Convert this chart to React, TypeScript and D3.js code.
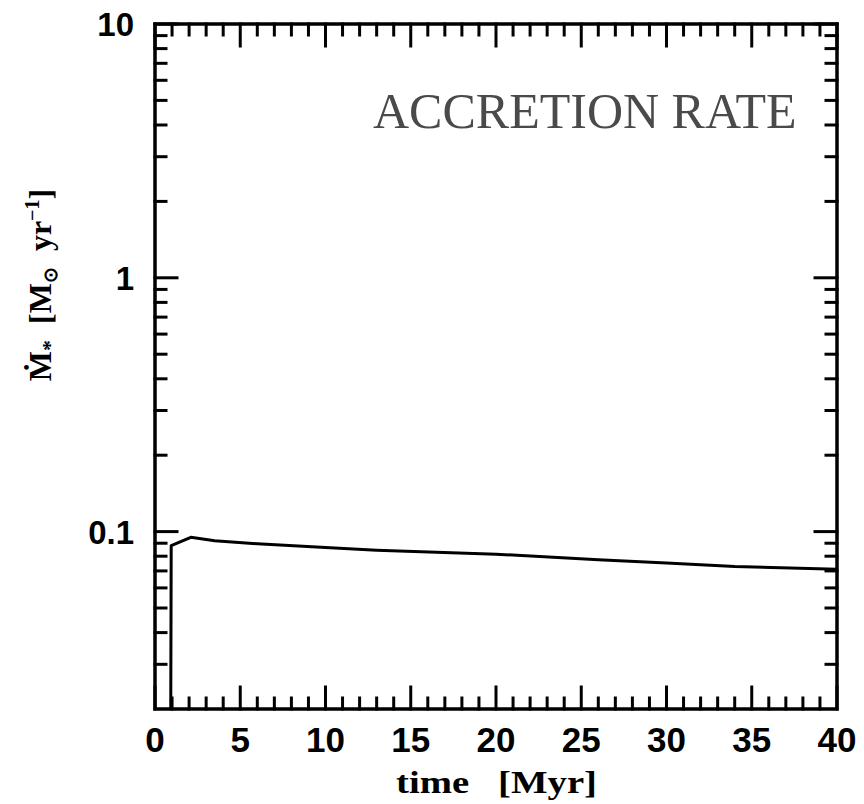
import React from "react";
import * as d3 from "d3";

const timeMyr = [0, 0.9, 0.95, 2.1, 3.5, 6, 10, 13, 20, 26, 30, 34, 40];
const accretionRate = [0.005, 0.005, 0.088, 0.095, 0.092, 0.0895, 0.0865, 0.0845, 0.0815, 0.0775, 0.0752, 0.0728, 0.0711];
const xMajorTicks = [0, 5, 10, 15, 20, 25, 30, 35, 40];
const yMajorTicks = [0.1, 1, 10];
const yTickLabels = ["0.1", "1", "10"];

const W = 864, H = 804;
const L = 155, R = 837, T = 24, B = 709;

export default function App() {
  const x = d3.scaleLinear().domain([0, 40]).range([L, R]);
  const y = d3.scaleLog().domain([0.02, 10]).range([B, T]);
  const xMinor = d3.range(0, 41, 1).filter((v) => v % 5 !== 0);
  const yMinor: number[] = [];
  for (let e = -2; e <= 0; e++) {
    for (let k = 2; k <= 9; k++) {
      const v = k * Math.pow(10, e);
      if (v > 0.02 && v < 10) yMinor.push(v);
    }
  }
  const line = d3
    .line<number>()
    .x((_, i) => x(timeMyr[i]))
    .y((_, i) => y(accretionRate[i]));
  const pathD = line(accretionRate) || "";
  const major = 22, minor = 11;
  const sw = 3;
  return (
    <svg width={W} height={H} style={{ position: "absolute", left: 0, top: 0, background: "#fff" }}>
      <defs>
        <clipPath id="clip">
          <rect x={L} y={T} width={R - L} height={B - T} />
        </clipPath>
      </defs>
      <g stroke="#000" strokeWidth={sw} strokeLinecap="square">
        {xMajorTicks.map((v) => (
          <g key={"xM" + v}>
            <line x1={x(v)} x2={x(v)} y1={B} y2={B - major} />
            <line x1={x(v)} x2={x(v)} y1={T} y2={T + major} />
          </g>
        ))}
        {xMinor.map((v) => (
          <g key={"xm" + v}>
            <line x1={x(v)} x2={x(v)} y1={B} y2={B - minor} />
            <line x1={x(v)} x2={x(v)} y1={T} y2={T + minor} />
          </g>
        ))}
        {yMajorTicks.map((v) => (
          <g key={"yM" + v}>
            <line x1={L} x2={L + major} y1={y(v)} y2={y(v)} />
            <line x1={R} x2={R - major} y1={y(v)} y2={y(v)} />
          </g>
        ))}
        {yMinor.map((v) => (
          <g key={"ym" + v}>
            <line x1={L} x2={L + minor} y1={y(v)} y2={y(v)} />
            <line x1={R} x2={R - minor} y1={y(v)} y2={y(v)} />
          </g>
        ))}
      </g>
      <path d={pathD} fill="none" stroke="#000" strokeWidth={3} strokeLinejoin="round" clipPath="url(#clip)" />
      <rect x={L} y={T} width={R - L} height={B - T} fill="none" stroke="#000" strokeWidth={sw + 0.5} />
      <g fontFamily="'Liberation Sans', sans-serif" fontWeight="bold" fill="#000">
        {xMajorTicks.map((v) => (
          <text key={"xl" + v} x={x(v)} y={752} textAnchor="middle" fontSize={35}>
            {v}
          </text>
        ))}
        {yMajorTicks.map((v, i) => (
          <text key={"yl" + v} x={134} y={y(v) + 12} textAnchor="end" fontSize={33}>
            {yTickLabels[i]}
          </text>
        ))}
      </g>
      <text x={396} y={793} fontFamily="'Liberation Serif', serif" fontWeight="bold" fontSize={31} textLength={201} lengthAdjust="spacingAndGlyphs">
        {"time\u00a0\u00a0\u00a0[Myr]"}
      </text>
      <text transform="translate(51,285) rotate(-90)" textAnchor="middle" fontFamily="'Liberation Serif', serif" fontWeight="bold" fontSize={32}>
        <tspan>Ṁ</tspan>
        <tspan fontSize={22} dy={6}>*</tspan>
        <tspan dy={-6}>{"\u00a0\u00a0[M"}</tspan>
        <tspan fontSize={19} dy={6}>⊙</tspan>
        <tspan dy={-6}>{"\u00a0\u00a0yr"}</tspan>
        <tspan fontSize={20} dy={-12}>−1</tspan>
        <tspan dy={12}>]</tspan>
      </text>
      <text x={373} y={128} fontFamily="'Liberation Serif', serif" fontSize={50} fill="#4a4a4a">
        ACCRETION RATE
      </text>
    </svg>
  );
}
